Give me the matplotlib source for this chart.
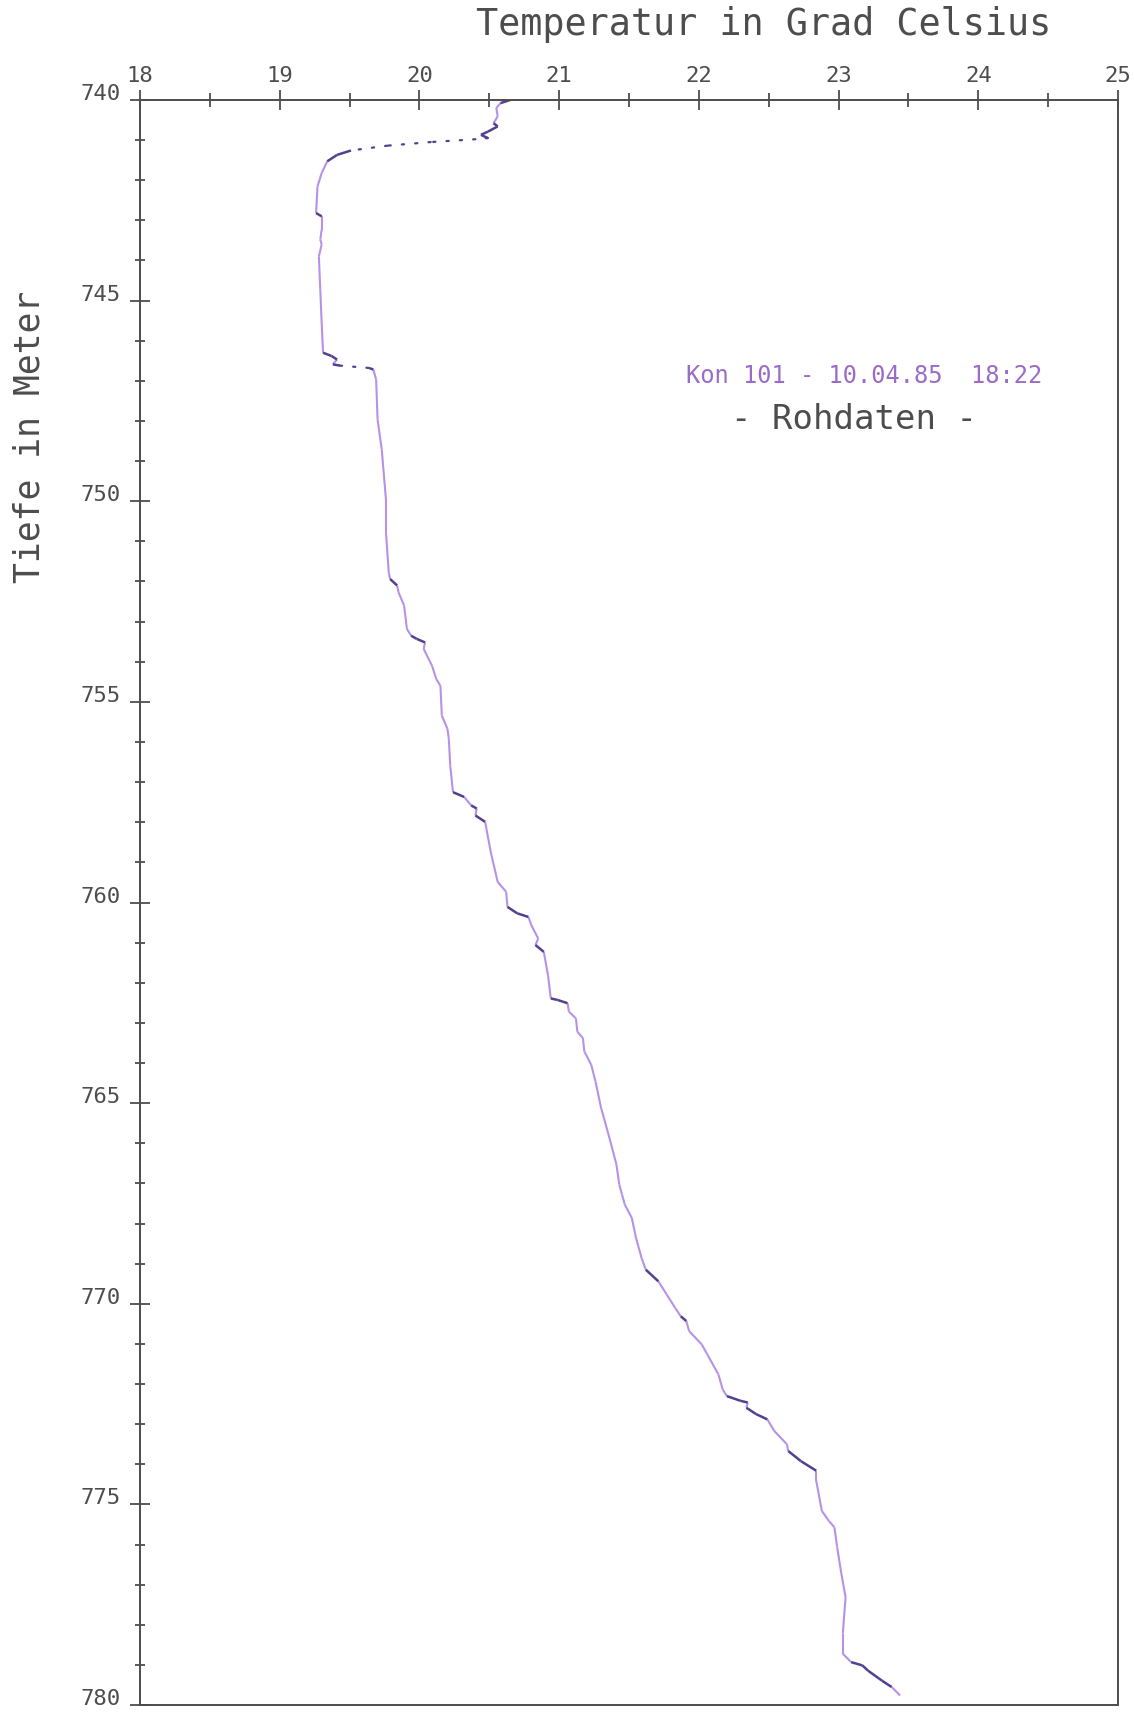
import numpy as np
import matplotlib.pyplot as plt
from matplotlib.collections import LineCollection
from matplotlib.ticker import MultipleLocator

# Temperaturprofil Kon 101, Rohdaten (Tiefe in m, Temperatur in Grad C)
depth = [740.00, 740.08, 740.20, 740.41, 740.58, 740.66, 740.79, 740.87, 740.95,
         740.98, 741.05, 741.14, 741.26, 741.37, 741.53, 741.82, 742.16, 742.82,
         742.90, 743.23, 743.48, 743.60, 743.90, 744.73, 745.56, 746.30, 746.38,
         746.47, 746.59, 746.62, 746.68, 746.72, 746.97, 747.96, 748.71, 749.95,
         750.77, 751.77, 751.94, 752.10, 752.27, 752.60, 753.18, 753.35, 753.43,
         753.52, 753.68, 754.10, 754.43, 754.60, 755.34, 755.67, 755.92, 756.58,
         757.25, 757.37, 757.58, 757.66, 757.83, 757.99, 758.74, 759.49, 759.73,
         760.11, 760.27, 760.36, 760.56, 760.90, 761.06, 761.23, 761.81, 762.39,
         762.43, 762.51, 762.72, 762.89, 763.22, 763.38, 763.71, 764.05, 764.46,
         765.12, 765.87, 766.53, 767.03, 767.28, 767.53, 767.86, 768.36, 768.86,
         769.15, 769.44, 769.77, 770.10, 770.31, 770.43, 770.68, 771.01, 771.26,
         771.76, 772.13, 772.30, 772.42, 772.46, 772.59, 772.75, 772.88, 773.17,
         773.50, 773.67, 773.92, 774.16, 774.41, 775.16, 775.41, 775.57, 776.07,
         776.73, 777.31, 778.22, 778.72, 778.93, 779.01, 779.14, 779.39, 779.55,
         779.76]
temp = [20.65, 20.58, 20.55, 20.56, 20.53, 20.56, 20.49, 20.44, 20.49,
        20.40, 20.08, 19.77, 19.51, 19.41, 19.34, 19.30, 19.27, 19.26,
        19.30, 19.30, 19.29, 19.30, 19.28, 19.29, 19.30, 19.31, 19.37,
        19.41, 19.38, 19.43, 19.64, 19.67, 19.69, 19.70, 19.73, 19.76,
        19.76, 19.78, 19.79, 19.84, 19.85, 19.89, 19.91, 19.94, 19.98,
        20.04, 20.03, 20.09, 20.12, 20.15, 20.16, 20.20, 20.21, 20.22,
        20.24, 20.32, 20.37, 20.41, 20.40, 20.47, 20.51, 20.56, 20.62,
        20.63, 20.70, 20.78, 20.80, 20.85, 20.83, 20.89, 20.92, 20.94,
        20.99, 21.06, 21.07, 21.12, 21.13, 21.17, 21.18, 21.23, 21.26,
        21.30, 21.36, 21.41, 21.43, 21.45, 21.47, 21.52, 21.55, 21.59,
        21.62, 21.71, 21.77, 21.83, 21.87, 21.91, 21.93, 22.02, 22.06,
        22.14, 22.17, 22.20, 22.30, 22.35, 22.34, 22.41, 22.49, 22.54,
        22.63, 22.64, 22.73, 22.84, 22.84, 22.88, 22.93, 22.97, 22.99,
        23.02, 23.05, 23.03, 23.03, 23.09, 23.17, 23.21, 23.31, 23.38,
        23.44]

x_ticks = [18, 19, 20, 21, 22, 23, 24, 25]
y_ticks = [740, 745, 750, 755, 760, 765, 770, 775, 780]

axis_col = '#4d4d4d'
light_col = '#b592e6'
dark_col = '#52418f'
font = 'DejaVu Sans Mono'

fig = plt.figure(figsize=(11.34, 17.14), dpi=100)
ax = fig.add_axes([0.1235, 0.0052, 0.8624, 0.9365])

# split the profile into segments, steep steps are drawn darker / dotted
d = np.array(depth)
t = np.array(temp)
pts = np.column_stack([t, d])
segs = np.stack([pts[:-1], pts[1:]], axis=1)
slope = np.abs(np.diff(t) / np.diff(d))

smooth = slope < 0.3
rough = (slope >= 0.3) & (slope < 2.0)
jump = slope >= 2.0

ax.add_collection(LineCollection(segs[smooth], colors=light_col, linewidths=1.5))
ax.add_collection(LineCollection(segs[rough], colors=dark_col, linewidths=1.8))
ax.add_collection(LineCollection(segs[jump], colors=dark_col, linewidths=1.6,
                                 linestyles=[(0, (1, 5))], capstyle='round'))

ax.set_xlim(18, 25)
ax.set_ylim(780, 740)

# axes frame and ticks
for sp in ax.spines.values():
    sp.set_color(axis_col)
    sp.set_linewidth(1.4)

ax.xaxis.tick_top()
ax.set_xticks(x_ticks)
ax.set_xticklabels([str(v) for v in x_ticks])
ax.xaxis.set_minor_locator(MultipleLocator(0.5))
ax.set_yticks(y_ticks)
ax.set_yticklabels([str(v) for v in y_ticks])
ax.yaxis.set_minor_locator(MultipleLocator(1))

ax.tick_params(axis='x', which='major', direction='inout', length=14, width=1.3,
               color=axis_col, labelcolor=axis_col, labelsize=16, pad=3)
ax.tick_params(axis='x', which='minor', direction='inout', length=10, width=1.3,
               color=axis_col)
ax.tick_params(axis='y', which='major', direction='inout', length=14, width=1.3,
               color=axis_col, labelcolor=axis_col, labelsize=16, pad=7)
ax.tick_params(axis='y', which='minor', direction='inout', length=7, width=1.3,
               color=axis_col)
for lbl in ax.get_xticklabels() + ax.get_yticklabels():
    lbl.set_fontfamily(font)
for lbl in ax.get_yticklabels():
    lbl.set_verticalalignment('baseline')

# axis titles
ax.xaxis.set_label_position('top')
ax.set_xlabel('Temperatur in Grad Celsius', fontsize=26.5, family=font,
              color=axis_col, va='center', ha='center')
ax.xaxis.set_label_coords(0.638, 1.047)
ax.set_ylabel('Tiefe in Meter', fontsize=25, family=font, color=axis_col,
              va='center', ha='center')
ax.yaxis.set_label_coords(-0.113, 0.79)

# annotation
ax.text(23.18, 746.89, 'Kon 101 - 10.04.85  18:22', fontsize=17, family=font,
        color='#9a6cc8', ha='center', va='center')
ax.text(23.11, 747.96, '- Rohdaten -', fontsize=24.5, family=font,
        color=axis_col, ha='center', va='center')

fig.savefig('out.png', dpi=100, facecolor='white')
